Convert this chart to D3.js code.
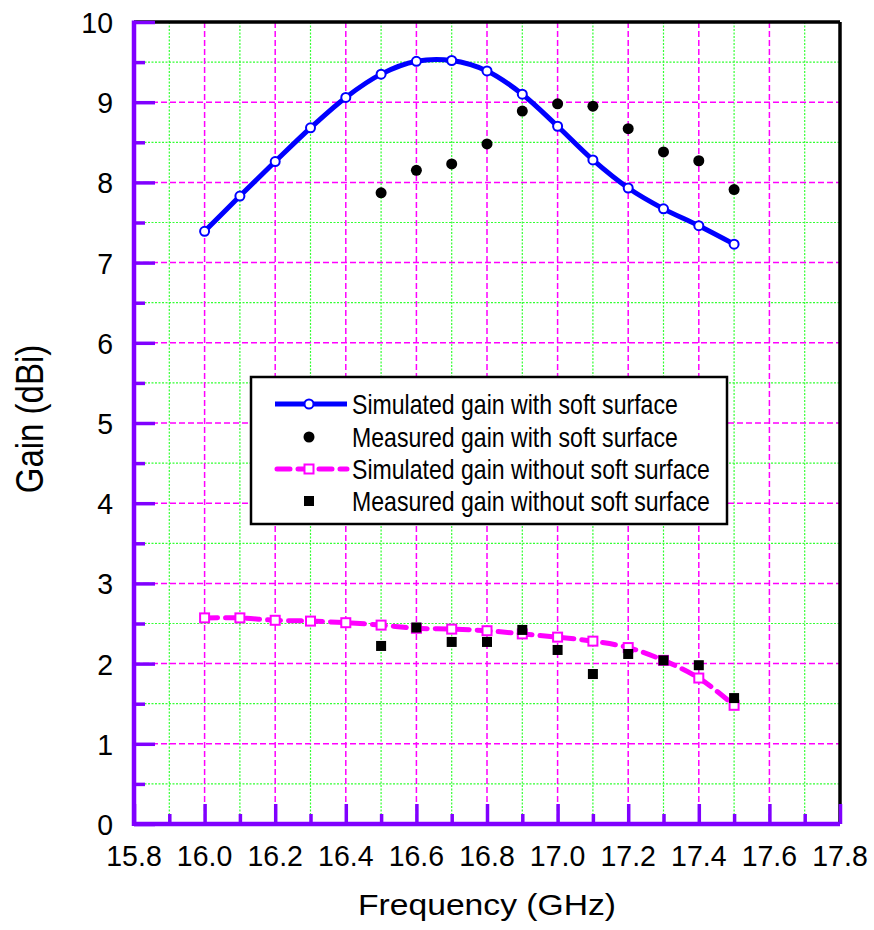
<!DOCTYPE html>
<html>
<head>
<meta charset="utf-8">
<script src="https://cdn.jsdelivr.net/npm/d3@7"></script>
<style>
  body { margin: 0; background: #fff; }
  text { font-family: "Liberation Sans", Arial, sans-serif; fill: #000; }
</style>
</head>
<body>
<svg id="chart"></svg>
<script>
const width = 874;
const height = 930;
const margin = {top: 22, right: 34, bottom: 106, left: 134};
const w = width - margin.left - margin.right;
const h = height - margin.top - margin.bottom;

// values
const freq = [16.0, 16.1, 16.2, 16.3, 16.4, 16.5, 16.6, 16.7, 16.8, 16.9, 17.0, 17.1, 17.2, 17.3, 17.4, 17.5];
const simWith = [7.39, 7.83, 8.26, 8.68, 9.06, 9.35, 9.51, 9.52, 9.39, 9.10, 8.70, 8.28, 7.93, 7.67, 7.46, 7.23];
const measFreq = [16.5, 16.6, 16.7, 16.8, 16.9, 17.0, 17.1, 17.2, 17.3, 17.4, 17.5];
const measWith = [7.87, 8.15, 8.23, 8.48, 8.89, 8.98, 8.95, 8.67, 8.38, 8.27, 7.91];
const simWithout = [2.57, 2.57, 2.54, 2.53, 2.51, 2.48, 2.44, 2.43, 2.41, 2.37, 2.33, 2.28, 2.20, 2.04, 1.82, 1.48];
const measWithout = [2.22, 2.45, 2.27, 2.27, 2.42, 2.17, 1.87, 2.12, 2.04, 1.98, 1.57];
const xTicks = [15.8, 16.0, 16.2, 16.4, 16.6, 16.8, 17.0, 17.2, 17.4, 17.6, 17.8];
const xMinor = [15.9, 16.1, 16.3, 16.5, 16.7, 16.9, 17.1, 17.3, 17.5, 17.7];
const yTicks = [0, 1, 2, 3, 4, 5, 6, 7, 8, 9, 10];
const yMinor = [0.5, 1.5, 2.5, 3.5, 4.5, 5.5, 6.5, 7.5, 8.5, 9.5];
const legendLabels = [
    "Simulated gain with soft surface",
    "Measured gain with soft surface",
    "Simulated gain without soft surface",
    "Measured gain without soft surface"
];

const purple = "#8000ff";
const magenta = "#ff00ff";
const green = "#33ff33";

const svg = d3.select("#chart")
    .attr("width", width)
    .attr("height", height);

const g = svg.append("g")
    .attr("transform", `translate(${margin.left},${margin.top})`);

const x = d3.scaleLinear().domain([15.8, 17.8]).range([0, w]);
const y = d3.scaleLinear().domain([0, 10]).range([h, 0]);

// grid: green dotted minor, magenta dashed major
g.append("g").selectAll("line").data(xMinor).join("line")
    .attr("x1", d => x(d)).attr("x2", d => x(d)).attr("y1", 0).attr("y2", h)
    .attr("stroke", green).attr("stroke-width", 1.2).attr("stroke-dasharray", "2,1.5");
g.append("g").selectAll("line").data(yMinor).join("line")
    .attr("y1", d => y(d)).attr("y2", d => y(d)).attr("x1", 0).attr("x2", w)
    .attr("stroke", green).attr("stroke-width", 1.2).attr("stroke-dasharray", "2,1.5");
g.append("g").selectAll("line").data(xTicks.slice(1, -1)).join("line")
    .attr("x1", d => x(d)).attr("x2", d => x(d)).attr("y1", 0).attr("y2", h)
    .attr("stroke", magenta).attr("stroke-width", 1.5).attr("stroke-dasharray", "6,3");
g.append("g").selectAll("line").data(yTicks.slice(1, -1)).join("line")
    .attr("y1", d => y(d)).attr("y2", d => y(d)).attr("x1", 0).attr("x2", w)
    .attr("stroke", magenta).attr("stroke-width", 1.5).attr("stroke-dasharray", "6,3");

// frame: top and right black
g.append("line").attr("x1", 0).attr("x2", w).attr("y1", 0).attr("y2", 0)
    .attr("stroke", "#000").attr("stroke-width", 3.5);
g.append("line").attr("x1", w).attr("x2", w).attr("y1", 0).attr("y2", h)
    .attr("stroke", "#000").attr("stroke-width", 3.5);

// axes with inward ticks
function styleAxis(sel) {
    sel.select(".domain").remove();
    sel.selectAll(".tick line").attr("stroke", purple).attr("stroke-width", 3.5);
}
g.append("g").attr("transform", `translate(0,${h})`)
    .call(d3.axisBottom(x).tickValues(xMinor).tickSize(-10).tickFormat(""))
    .call(styleAxis);
g.append("g").attr("transform", `translate(0,${h})`)
    .call(d3.axisBottom(x).tickValues(xTicks).tickSize(-20).tickFormat(""))
    .call(styleAxis);
g.append("g")
    .call(d3.axisLeft(y).tickValues(yMinor).tickSize(-11).tickFormat(""))
    .call(styleAxis);
g.append("g")
    .call(d3.axisLeft(y).tickValues(yTicks).tickSize(-21).tickFormat(""))
    .call(styleAxis);

g.append("line").attr("x1", 0).attr("x2", w).attr("y1", h).attr("y2", h)
    .attr("stroke", purple).attr("stroke-width", 4.5);
g.append("line").attr("x1", 0).attr("x2", 0).attr("y1", -1.5).attr("y2", h + 2)
    .attr("stroke", purple).attr("stroke-width", 4.5);

// tick labels
g.append("g").selectAll("text").data(xTicks).join("text")
    .attr("transform", d => `translate(${x(d)},${h + 42}) scale(0.95,1)`)
    .attr("text-anchor", "middle").attr("font-size", 30)
    .text(d => d3.format(".1f")(d));
g.append("g").selectAll("text").data(yTicks).join("text")
    .attr("transform", d => `translate(-21,${y(d) + 11}) scale(0.95,1)`)
    .attr("text-anchor", "end").attr("font-size", 30)
    .text(d => d);

// axis titles
g.append("text").attr("x", 358 - margin.left).attr("y", 915 - margin.top)
    .attr("font-size", 29).attr("textLength", 258).attr("lengthAdjust", "spacingAndGlyphs")
    .text("Frequency (GHz)");
g.append("text")
    .attr("transform", `translate(${43 - margin.left},${419 - margin.top}) rotate(-90) scale(1,1.15)`)
    .attr("text-anchor", "middle").attr("font-size", 33)
    .text("Gain (dBi)");

// series
const lineWith = d3.line().curve(d3.curveCatmullRom)
    .x((d, i) => x(freq[i])).y(d => y(d));

g.append("path").datum(simWithout)
    .attr("fill", "none").attr("stroke", magenta).attr("stroke-width", 5)
    .attr("stroke-dasharray", "13,8").attr("stroke-linecap", "round")
    .attr("d", lineWith);

g.append("g").selectAll("rect").data(simWithout).join("rect")
    .attr("x", (d, i) => x(freq[i]) - 4.5).attr("y", d => y(d) - 4.5)
    .attr("width", 9).attr("height", 9)
    .attr("fill", "#fff").attr("stroke", magenta).attr("stroke-width", 2);

g.append("g").selectAll("rect").data(measWithout).join("rect")
    .attr("x", (d, i) => x(measFreq[i]) - 5).attr("y", d => y(d) - 5)
    .attr("width", 10).attr("height", 10).attr("fill", "#000");

g.append("path").datum(simWith)
    .attr("fill", "none").attr("stroke", "#0000ff").attr("stroke-width", 5)
    .attr("d", lineWith);

g.append("g").selectAll("circle").data(simWith).join("circle")
    .attr("cx", (d, i) => x(freq[i])).attr("cy", d => y(d)).attr("r", 4.5)
    .attr("fill", "#fff").attr("stroke", "#0000ff").attr("stroke-width", 2);

g.append("g").selectAll("circle").data(measWith).join("circle")
    .attr("cx", (d, i) => x(measFreq[i])).attr("cy", d => y(d)).attr("r", 5.5)
    .attr("fill", "#000");

// legend
const legend = svg.append("g").attr("transform", "translate(251,377)");
legend.append("rect").attr("width", 476).attr("height", 147)
    .attr("fill", "#fff").attr("stroke", "#000").attr("stroke-width", 2.5);
const rowY = [27, 60, 92, 124];
legendLabels.forEach((label, i) => {
    const row = legend.append("g").attr("transform", `translate(0,${rowY[i]})`);
    if (i === 0) {
        row.append("line").attr("x1", 24).attr("x2", 96).attr("stroke", "#0000ff").attr("stroke-width", 5);
        row.append("circle").attr("cx", 58).attr("r", 4.5)
            .attr("fill", "#fff").attr("stroke", "#0000ff").attr("stroke-width", 2);
    } else if (i === 1) {
        row.append("circle").attr("cx", 58).attr("r", 5.5).attr("fill", "#000");
    } else if (i === 2) {
        row.append("line").attr("x1", 26).attr("x2", 96).attr("stroke", magenta).attr("stroke-width", 5)
            .attr("stroke-dasharray", "13,8").attr("stroke-linecap", "round");
        row.append("rect").attr("x", 53.5).attr("y", -4.5).attr("width", 9).attr("height", 9)
            .attr("fill", "#fff").attr("stroke", magenta).attr("stroke-width", 2);
    } else {
        row.append("rect").attr("x", 53).attr("y", -5).attr("width", 10).attr("height", 10).attr("fill", "#000");
    }
    row.append("text").attr("transform", "translate(101,10) scale(0.855,1)")
        .attr("font-size", 27).text(label);
});
</script>
</body>
</html>
